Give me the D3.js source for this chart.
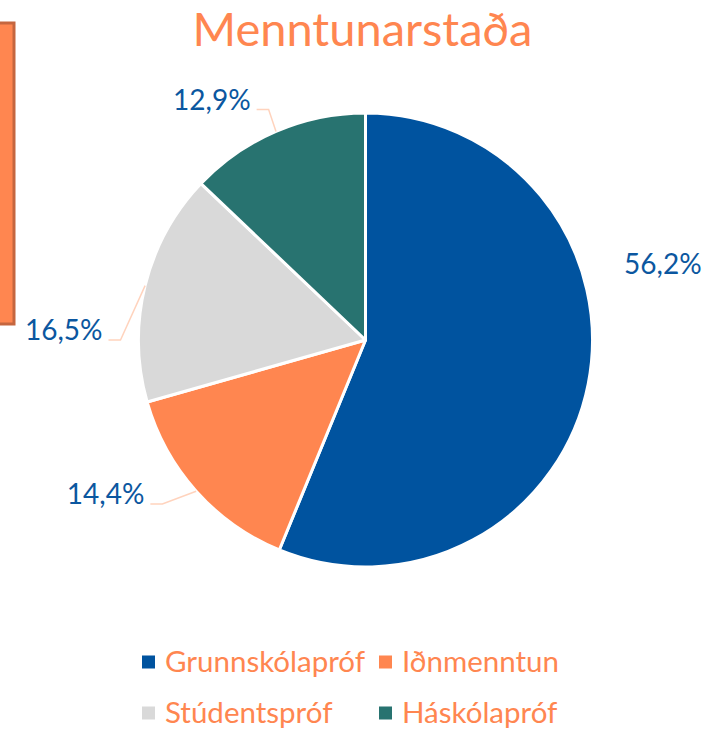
<!DOCTYPE html>
<html>
<head>
<meta charset="utf-8">
<script src="https://cdn.jsdelivr.net/npm/d3@7"></script>
<style>
  body { margin: 0; background: #fff; }
  text { font-family: Lato, "Open Sans", sans-serif; }
</style>
</head>
<body>
<div id="chart"></div>
<script>
// data
const title = "Menntunarstaða"
const categories = ["Grunnskólapróf", "Iðnmenntun", "Stúdentspróf", "Háskólapróf"]
const shares = [56.2, 14.4, 16.5, 12.9]
const colours = ["#00539F", "#FF8650", "#D9D9D9", "#287370"]

// label placement (Excel "best fit"): angle in degrees from 12 o'clock, radius in px
const label_angle = [75.6, 231.1, 270, 337.2]
const label_radius = [307, 261, 245, 250]
const has_leader = [false, true, true, true]

var width = 708, height = 729
var cx = 365.5, cy = 340, r = 227

var svg = d3.select("#chart")
  .append("svg")
    .attr("width", width)
    .attr("height", height)

// orange box peeking in from the left
svg.append("rect")
  .attr("x", -4).attr("y", 23)
  .attr("width", 18).attr("height", 301)
  .style("fill", "#FF8650")
  .style("stroke", "#C5663F")
  .style("stroke-width", 3)

svg.append("text")
  .attr("x", cx - 3)
  .attr("y", 46)
  .attr("text-anchor", "middle")
  .style("font-size", "47px")
  .style("fill", "#FF8650")
  .text(title)

var is = d3.formatLocale({decimal: ",", thousands: ".", grouping: [3], currency: ["", " kr."]})
var pct = is.format(".1f")

var pie = d3.pie().sort(null).value(function(d) { return d })
var arcs = pie(shares)
var arc = d3.arc().innerRadius(0).outerRadius(r)

var g = svg.append("g").attr("transform", "translate(" + cx + "," + cy + ")")

g.selectAll("path.slice")
  .data(arcs)
  .enter()
  .append("path")
    .attr("class", "slice")
    .attr("d", arc)
    .style("fill", function(d, i) { return colours[i] })
    .style("stroke", "#fff")
    .style("stroke-width", 3)
    .style("stroke-linejoin", "round")

function polar(deg, rad) {
  var a = deg * Math.PI / 180
  return [rad * Math.sin(a), -rad * Math.cos(a)]
}

// leader lines + labels
arcs.forEach(function(d, i) {
  var p = polar(label_angle[i], label_radius[i])
  if (has_leader[i]) {
    var mid = (d.startAngle + d.endAngle) / 2
    var edge = [r * Math.sin(mid), -r * Math.cos(mid)]
    g.append("polyline")
      .attr("points", [edge, p, [p[0] - 12, p[1]]].map(function(q) { return q.join(",") }).join(" "))
      .style("fill", "none")
      .style("stroke", "#FFD3BD")
      .style("stroke-width", 1.5)
    g.append("text")
      .attr("x", p[0] - 18)
      .attr("y", p[1])
      .attr("text-anchor", "end")
      .style("font-size", "28px")
      .style("fill", "#0B57A0")
      .text(pct(shares[i]) + "%")
  } else {
    g.append("text")
      .attr("x", p[0])
      .attr("y", p[1] + 10)
      .attr("text-anchor", "middle")
      .style("font-size", "28px")
      .style("fill", "#0B57A0")
      .text(pct(shares[i]) + "%")
  }
})

// legend, two rows of two
var legend = svg.append("g")
var cols = [142, 379], rows = [662, 713]
legend.selectAll("rect")
  .data(categories)
  .enter()
  .append("rect")
    .attr("x", function(d, i) { return cols[i % 2] })
    .attr("y", function(d, i) { return rows[Math.floor(i / 2)] - 6.5 })
    .attr("width", 13)
    .attr("height", 13)
    .style("fill", function(d, i) { return colours[i] })

legend.selectAll("text")
  .data(categories)
  .enter()
  .append("text")
    .attr("x", function(d, i) { return cols[i % 2] + 23 })
    .attr("y", function(d, i) { return rows[Math.floor(i / 2)] + 10 })
    .style("font-size", "29.5px")
    .style("fill", "#FF8650")
    .text(function(d) { return d })
</script>
</body>
</html>
